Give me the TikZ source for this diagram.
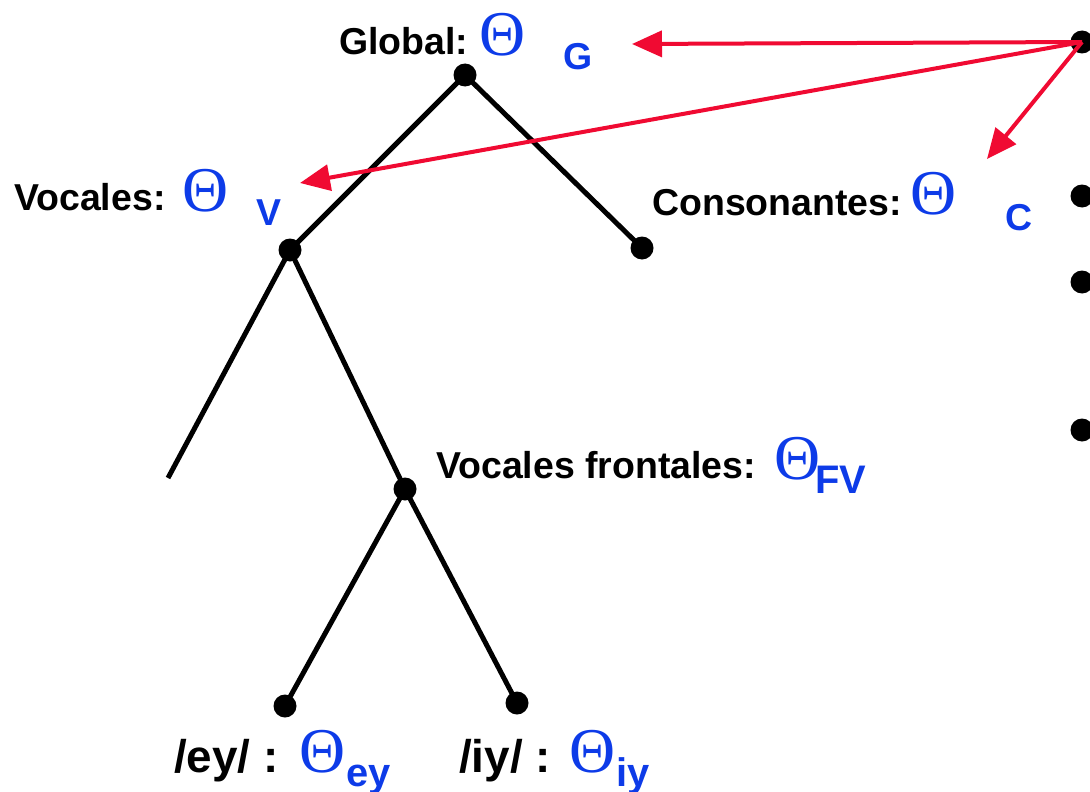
\documentclass[tikz,border=0pt]{standalone}
\usepackage{fontspec}
\setmainfont{Liberation Sans}
\newfontfamily\thetafont{Liberation Serif}
\usetikzlibrary{arrows.meta}
\definecolor{thblue}{RGB}{13,59,232}
\definecolor{arrred}{RGB}{240,10,50}
\begin{document}
\begin{tikzpicture}[x=1bp,y=-1bp,
  dotnode/.style={circle,fill=black,inner sep=0pt,minimum size=23bp},
  tree/.style={line width=5bp,black},
  redarrow/.style={line width=4bp,arrred,-{Triangle[length=30bp,width=26bp]}},
  lbl/.style={inner sep=0pt,anchor=base west,font=\fontsize{37.6}{40}\selectfont\bfseries},
  big/.style={inner sep=0pt,anchor=base west,font=\fontsize{46}{50}\selectfont\bfseries},
  th/.style={inner sep=0pt,anchor=base west,text=thblue,font=\fontsize{64}{66}\selectfont\thetafont},
  sub/.style={inner sep=0pt,anchor=base west,text=thblue,font=\fontsize{37.6}{40}\selectfont\bfseries},
  subb/.style={inner sep=0pt,anchor=base west,text=thblue,font=\fontsize{40}{44}\selectfont\bfseries}]
\useasboundingbox (0,0) rectangle (1090,792);

% tree nodes
\node[dotnode] (g) at (465,75) {};
\node[dotnode] (v) at (290,250) {};
\node[dotnode] (c) at (642,248) {};
\coordinate (lend) at (168,478);
\node[dotnode] (fv) at (405,489) {};
\node[dotnode] (ey) at (285,706) {};
\node[dotnode] (iy) at (517,703) {};

\draw[tree] (g.center) -- (v.center);
\draw[tree] (g.center) -- (c.center);
\draw[tree] (v.center) -- (lend);
\draw[tree] (v.center) -- (fv.center);
\draw[tree] (fv.center) -- (ey.center);
\draw[tree] (fv.center) -- (iy.center);

% right-hand dots
\node[dotnode] (src) at (1082,42) {};
\node[dotnode] (b1) at (1082,196) {};
\node[dotnode] (b2) at (1082,282) {};
\node[dotnode] (b3) at (1082,430) {};

% red arrows
\coordinate (tG) at (632,44);
\coordinate (tV) at (300,183);
\coordinate (tC) at (987,159);
\draw[redarrow] (src.center) -- (tG);
\draw[redarrow] (src.center) -- (tV);
\draw[redarrow] (src.center) -- (tC);

% labels
\node[lbl] (lg) at (339,55) {Global:};
\node[th] (thg) at (479,56) {Θ};
\node[sub] (sg) at (563,70) {G};

\node[lbl] (lv) at (14,210) {Vocales:};
\node[th] (thv) at (182,211) {Θ};
\node[sub] (sv) at (256,225) {V};

\node[lbl] (lc) at (652,215) {Consonantes:};
\node[th] (thc) at (910,214) {Θ};
\node[sub] (sc) at (1005,230) {C};

\node[lbl] (lfv) at (436,478) {Vocales frontales:};
\node[th] (thfv) at (774,479) {Θ};
\node[subb] (sfv) at (815,493) {FV};

\node[big] (ley) at (174,772) {/ey/ :};
\node[th] (they) at (299,772) {Θ};
\node[subb] (sey) at (346,786) {ey};

\node[big] (liy) at (459,772) {/iy/ :};
\node[th] (thiy) at (569,772) {Θ};
\node[subb] (siy) at (616,786) {iy};
\end{tikzpicture}
\end{document}
